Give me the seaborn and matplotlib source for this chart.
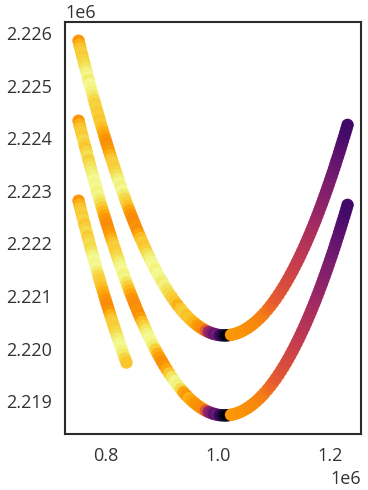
import pandas as pd
import numpy as np
import matplotlib.pyplot as plt
import seaborn as sns

# x positions read along the two full parabolic tracks (the short track follows the first 42)
curve_x = [752300, 754000, 755800, 757500, 759300, 761100, 762900, 764700, 766600, 768400,
           770300, 772100, 774000, 775900, 777900, 779800, 781800, 783700, 785700, 787700,
           789700, 791800, 793800, 795900, 798000, 800200, 802300, 804500, 806700, 808900,
           811100, 813400, 815600, 818000, 820300, 822700, 825100, 827500, 830000, 832500,
           835000, 837600, 840200, 842800, 845500, 848300, 851100, 853900, 856800, 859700,
           862700, 865800, 868900, 872100, 875300, 878700, 882100, 885700, 889300, 893000,
           896900, 900900, 905000, 909300, 913800, 918500, 923500, 928800, 934400, 939200,
           944300, 949000, 954000, 959000, 964000, 969000, 974000, 979000, 984000, 989000,
           994000, 999000, 1004000, 1009000, 1014000, 1019000, 1024000, 1029000, 1034000, 1039000,
           1044000, 1049000, 1054000, 1059000, 1064000, 1069000, 1074000, 1078500, 1083100, 1088800,
           1094100, 1099100, 1103800, 1108600, 1113200, 1117600, 1121800, 1125800, 1129700, 1133500,
           1137100, 1140700, 1144200, 1147500, 1150800, 1154100, 1157200, 1160300, 1163300, 1166300,
           1169200, 1172000, 1174800, 1177600, 1180300, 1182900, 1185600, 1188100, 1190700, 1193200,
           1195700, 1198100, 1200500, 1202900, 1205300, 1207600, 1209900, 1212100, 1214400, 1216600,
           1218800, 1221000, 1223100, 1225300, 1227400, 1229500, 1231500]

upper_y = [2225850, 2225775, 2225700, 2225625, 2225550, 2225475, 2225400, 2225325, 2225250, 2225175,
           2225100, 2225025, 2224950, 2224875, 2224800, 2224725, 2224650, 2224575, 2224500, 2224425,
           2224350, 2224275, 2224200, 2224125, 2224050, 2223975, 2223900, 2223825, 2223750, 2223675,
           2223600, 2223525, 2223450, 2223375, 2223300, 2223225, 2223150, 2223075, 2223000, 2222925,
           2222850, 2222775, 2222700, 2222625, 2222550, 2222475, 2222400, 2222325, 2222250, 2222175,
           2222100, 2222025, 2221950, 2221875, 2221800, 2221725, 2221650, 2221575, 2221500, 2221425,
           2221350, 2221275, 2221200, 2221125, 2221050, 2220975, 2220900, 2220825, 2220750, 2220690,
           2220630, 2220579, 2220529, 2220483, 2220441, 2220403, 2220370, 2220340, 2220315, 2220294,
           2220277, 2220264, 2220255, 2220251, 2220250, 2220254, 2220262, 2220274, 2220290, 2220311,
           2220335, 2220364, 2220396, 2220433, 2220474, 2220520, 2220569, 2220617, 2220670, 2220740,
           2220810, 2220880, 2220950, 2221025, 2221100, 2221175, 2221250, 2221325, 2221400, 2221475,
           2221550, 2221625, 2221700, 2221775, 2221850, 2221925, 2222000, 2222075, 2222150, 2222225,
           2222300, 2222375, 2222450, 2222525, 2222600, 2222675, 2222750, 2222825, 2222900, 2222975,
           2223050, 2223125, 2223200, 2223275, 2223350, 2223425, 2223500, 2223575, 2223650, 2223725,
           2223800, 2223875, 2223950, 2224025, 2224100, 2224175, 2224250]

lower_y = [2224330, 2224255, 2224180, 2224105, 2224030, 2223955, 2223880, 2223805, 2223730, 2223655,
           2223580, 2223505, 2223430, 2223355, 2223280, 2223205, 2223130, 2223055, 2222980, 2222905,
           2222830, 2222755, 2222680, 2222605, 2222530, 2222455, 2222380, 2222305, 2222230, 2222155,
           2222080, 2222005, 2221930, 2221855, 2221780, 2221705, 2221630, 2221555, 2221480, 2221405,
           2221330, 2221255, 2221180, 2221105, 2221030, 2220955, 2220880, 2220805, 2220730, 2220655,
           2220580, 2220505, 2220430, 2220355, 2220280, 2220205, 2220130, 2220055, 2219980, 2219905,
           2219830, 2219755, 2219680, 2219605, 2219530, 2219455, 2219380, 2219305, 2219230, 2219170,
           2219110, 2219059, 2219009, 2218963, 2218921, 2218883, 2218850, 2218820, 2218795, 2218774,
           2218757, 2218744, 2218735, 2218731, 2218730, 2218734, 2218742, 2218754, 2218770, 2218791,
           2218815, 2218844, 2218876, 2218913, 2218954, 2219000, 2219049, 2219097, 2219150, 2219220,
           2219290, 2219360, 2219430, 2219505, 2219580, 2219655, 2219730, 2219805, 2219880, 2219955,
           2220030, 2220105, 2220180, 2220255, 2220330, 2220405, 2220480, 2220555, 2220630, 2220705,
           2220780, 2220855, 2220930, 2221005, 2221080, 2221155, 2221230, 2221305, 2221380, 2221455,
           2221530, 2221605, 2221680, 2221755, 2221830, 2221905, 2221980, 2222055, 2222130, 2222205,
           2222280, 2222355, 2222430, 2222505, 2222580, 2222655, 2222730]

short_y = [2222810, 2222735, 2222660, 2222585, 2222510, 2222435, 2222360, 2222285, 2222210, 2222135,
           2222060, 2221985, 2221910, 2221835, 2221760, 2221685, 2221610, 2221535, 2221460, 2221385,
           2221310, 2221235, 2221160, 2221085, 2221010, 2220935, 2220860, 2220785, 2220710, 2220635,
           2220560, 2220485, 2220410, 2220335, 2220260, 2220185, 2220110, 2220035, 2219960, 2219885,
           2219810, 2219735]

# colour value (inferno) for each point
upper_left_val = [0.75, 0.80, 0.84, 0.86, 0.85, 0.87, 0.88, 0.90, 0.93, 0.94,
                  0.92, 0.95, 0.94, 0.93, 0.91, 0.88, 0.86, 0.87, 0.85, 0.86,
                  0.84, 0.85, 0.83, 0.80, 0.78, 0.75, 0.73, 0.74, 0.76, 0.80,
                  0.84, 0.86, 0.85, 0.87, 0.89, 0.92, 0.94, 0.93, 0.95, 0.92,
                  0.88, 0.86, 0.83, 0.78, 0.75, 0.73, 0.72, 0.74, 0.73, 0.77,
                  0.82, 0.85, 0.84, 0.86, 0.89, 0.92, 0.94, 0.95, 0.93, 0.95,
                  0.94, 0.92, 0.93, 0.90, 0.88, 0.86, 0.84, 0.80, 0.84, 0.86,
                  0.83,
                  0.84, 0.82, 0.80, 0.76, 0.74, 0.72, 0.62, 0.42, 0.35, 0.28,
                  0.32, 0.20, 0.12, 0.04]
lower_left_val = [0.75, 0.80, 0.84, 0.86, 0.85, 0.88, 0.86, 0.84, 0.87, 0.89,
                  0.86, 0.88, 0.90, 0.92, 0.93, 0.95, 0.94, 0.95, 0.93, 0.94,
                  0.92, 0.89, 0.85, 0.82, 0.78, 0.75, 0.73, 0.72, 0.74, 0.76,
                  0.80, 0.84, 0.86, 0.85, 0.87, 0.89, 0.92, 0.94, 0.95, 0.93,
                  0.94, 0.90, 0.86, 0.82, 0.78, 0.75, 0.73, 0.72, 0.74, 0.73,
                  0.76, 0.82, 0.86, 0.90, 0.93, 0.95, 0.94, 0.92, 0.86, 0.80,
                  0.76, 0.73, 0.74, 0.78, 0.84, 0.90, 0.94, 0.93, 0.88, 0.78,
                  0.75,
                  0.80, 0.77, 0.75, 0.74, 0.73, 0.72, 0.60, 0.40, 0.33, 0.26,
                  0.30, 0.18, 0.10, 0.04]
right_val = [0.00, 0.75, 0.75, 0.75, 0.74, 0.74, 0.74, 0.73, 0.73, 0.72,
             0.72, 0.71, 0.70,
             0.69, 0.67, 0.65, 0.63, 0.61, 0.60, 0.59, 0.58, 0.57, 0.56,
             0.55, 0.54, 0.53, 0.52, 0.51, 0.50, 0.49, 0.48, 0.47, 0.46,
             0.455, 0.45, 0.44, 0.43, 0.42, 0.41, 0.40, 0.39, 0.38, 0.37,
             0.36, 0.355, 0.35, 0.34, 0.33, 0.32, 0.31, 0.30, 0.29, 0.28,
             0.27, 0.26, 0.25, 0.24, 0.23, 0.22, 0.21, 0.20, 0.19]
short_val = [0.75, 0.80, 0.84, 0.86, 0.85, 0.87, 0.84, 0.86, 0.88, 0.85,
             0.87, 0.89, 0.88, 0.90, 0.93, 0.95, 0.94, 0.95, 0.92, 0.88,
             0.86, 0.85, 0.83, 0.80, 0.78, 0.75, 0.73, 0.72, 0.75, 0.80,
             0.84, 0.86, 0.85, 0.87, 0.89, 0.92, 0.94, 0.95, 0.93, 0.91,
             0.87, 0.84]


sns.set_theme(style="white")
plt.rcParams["font.family"] = ["Open Sans", "DejaVu Sans"]
plt.rcParams["axes.edgecolor"] = "#2b2b2b"
plt.rcParams["axes.linewidth"] = 1.5

df = pd.concat([
    pd.DataFrame({"x": curve_x, "y": upper_y, "v": upper_left_val + right_val}),
    pd.DataFrame({"x": curve_x, "y": lower_y, "v": lower_left_val + right_val}),
    pd.DataFrame({"x": curve_x[:len(short_y)], "y": short_y, "v": short_val}),
], ignore_index=True)

fig, ax = plt.subplots(figsize=(3.68, 4.9), dpi=100)
fig.subplots_adjust(left=0.177, right=0.981, bottom=0.114, top=0.955)

sns.scatterplot(data=df, x="x", y="y", hue="v", palette="inferno", hue_norm=(0, 0.97),
                s=81, linewidth=0, legend=False, ax=ax)

ax.set_xlabel("")
ax.set_ylabel("")
ax.set_xticks([800000, 1000000, 1200000])
ax.set_yticks([2219000, 2220000, 2221000, 2222000, 2223000, 2224000, 2225000, 2226000])
ax.tick_params(labelsize=13, colors="#333333")
for t in (ax.xaxis.get_offset_text(), ax.yaxis.get_offset_text()):
    t.set_color("#333333")
    t.set_fontsize(13)

fig.savefig("out.png", dpi=100)
